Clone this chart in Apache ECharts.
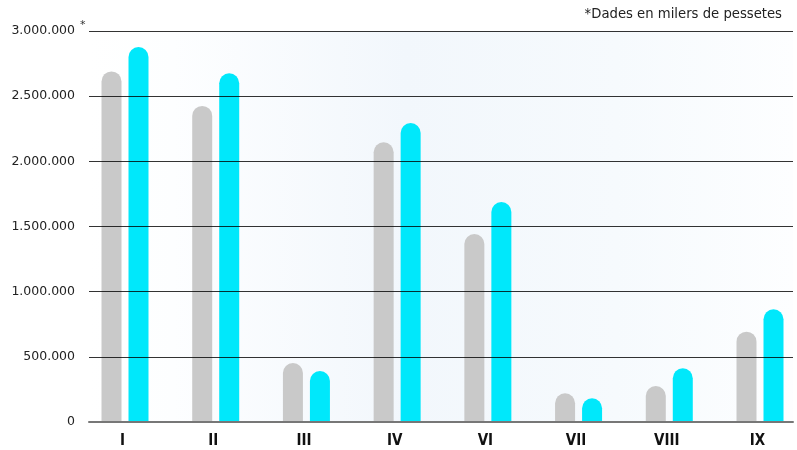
<!DOCTYPE html>
<html>
<head>
<meta charset="utf-8">
<script src="https://cdn.jsdelivr.net/npm/echarts@6/dist/echarts.min.js"></script>
<style>html,body{margin:0;padding:0;background:#fff}#c{width:797px;height:450px}</style>
</head>
<body>
<div id="c"></div>
<script>
const categories = ['I', 'II', 'III', 'IV', 'VI', 'VII', 'VIII', 'IX'];
const seriesGrey = [2690000, 2425000, 452000, 2146000, 1442000, 220000, 276000, 693000];
const seriesCyan = [2877000, 2675000, 391000, 2294000, 1688000, 182000, 412000, 865000];
const yMin = 0, yMax = 3000000, yStep = 500000;
const noteText = '*Dades en milers de pessetes';

function fmt(v) {
  return String(v).replace(/\B(?=(\d{3})+(?!\d))/g, '.');
}

const chart = echarts.init(document.getElementById('c'), null, {renderer: 'canvas'});
chart.setOption({
  animation: false,
  backgroundColor: '#ffffff',
  grid: [
    {left: 89, right: 4, top: 31, bottom: 28, show: true, borderWidth: 0,
     backgroundColor: new echarts.graphic.LinearGradient(0, 0, 1, 0, [
       {offset: 0, color: '#ffffff'},
       {offset: 0.12, color: '#fdfeff'},
       {offset: 0.45, color: '#f2f7fc'},
       {offset: 0.75, color: '#f6fafd'},
       {offset: 1, color: '#fdfeff'}
     ])},
    {left: 125, right: 37, top: 31, bottom: 28}
  ],
  xAxis: [
    {type: 'category', gridIndex: 0, data: categories, z: 5,
     axisLine: {show: true, lineStyle: {color: '#777777', width: 2}},
     axisTick: {show: false}, axisLabel: {show: false}, splitLine: {show: false}},
    {type: 'category', gridIndex: 1, data: categories, boundaryGap: false,
     axisLine: {show: false}, axisTick: {show: false}, splitLine: {show: false},
     axisLabel: {show: true, color: '#111111', fontFamily: 'Liberation Sans Narrow, DejaVu Sans Condensed, sans-serif',
                 fontWeight: 'bold', fontSize: 15, margin: 12, padding: [0, 5, 0, 0]}}
  ],
  yAxis: [
    {type: 'value', gridIndex: 0, min: yMin, max: yMax, interval: yStep, z: 5,
     axisLine: {show: false}, axisTick: {show: false},
     axisLabel: {color: '#222222', fontFamily: 'DejaVu Sans', fontSize: 12.5, margin: 14,
                 formatter: v => fmt(v)},
     splitLine: {show: true, lineStyle: {color: 'rgba(0,0,0,0.8)', width: 1}}},
    {type: 'value', gridIndex: 1, min: yMin, max: yMax, interval: yStep, show: false,
     splitLine: {show: false}}
  ],
  series: [
    {type: 'bar', xAxisIndex: 1, yAxisIndex: 1, data: seriesGrey, barWidth: 20, barGap: '35%',
     itemStyle: {color: '#c9c9c9', borderRadius: [10, 10, 0, 0]}, z: 2},
    {type: 'bar', xAxisIndex: 1, yAxisIndex: 1, data: seriesCyan, barWidth: 20, barGap: '35%',
     itemStyle: {color: '#00e8fb', borderRadius: [10, 10, 0, 0]}, z: 2}
  ],
  graphic: [
    {type: 'text', right: 15, top: 7, z: 10,
     style: {text: noteText, fill: '#222222', font: '14.7px "DejaVu Sans Condensed", "DejaVu Sans", sans-serif'}},
    {type: 'text', left: 80, top: 20, z: 10,
     style: {text: '*', fill: '#333333', font: '11px "DejaVu Sans", sans-serif'}}
  ]
});
</script>
</body>
</html>
